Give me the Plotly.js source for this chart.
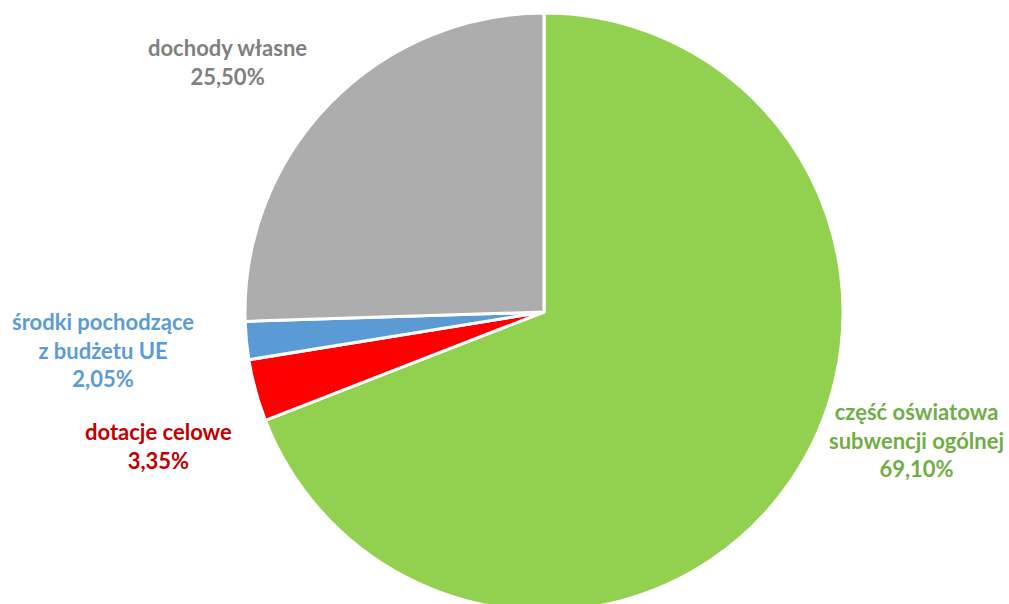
<!DOCTYPE html>
<html>
<head>
<meta charset="utf-8">
<script src="https://cdn.plot.ly/plotly-3.0.1.min.js"></script>
<style>
html,body{margin:0;padding:0;overflow:hidden;background:#fff;}
#chart{width:1009px;height:624px;}
</style>
</head>
<body>
<div id="chart"></div>
<script>
// Data
const categories = ["część oświatowa<br>subwencji ogólnej", "dotacje celowe", "środki pochodzące<br>z budżetu UE", "dochody własne"];
const values = [69.10, 3.35, 2.05, 25.50];

// Styles
const sliceColors = ["#92D050", "#FF0000", "#5B9BD5", "#ADADAD"];
const textColors = ["#70AD47", "#C00000", "#5B9BD5", "#7F7F7F"];
// label centre positions in pixels (x, y of first line centre)
const labelPos = [[916, 412], [158, 432], [103, 322], [227, 48]];

const W = 1009, H = 624;
const fmt = v => v.toFixed(2).replace('.', ',') + '%';

const annotations = categories.map((c, i) => {
  const lines = c.split('<br>').length + 1;
  const lineH = 28;
  const cy = labelPos[i][1] + (lines - 1) * lineH / 2;
  return {
    xref: 'paper', yref: 'paper',
    x: labelPos[i][0] / W, y: 1 - cy / H,
    xanchor: 'center', yanchor: 'middle',
    text: c + '<br>' + fmt(values[i]),
    showarrow: false,
    align: 'center',
    font: {family: 'Lato, "Open Sans", sans-serif', size: 22, weight: 'bold', color: textColors[i]}
  };
});

const trace = {
  type: 'pie',
  labels: categories,
  values: values,
  sort: false,
  direction: 'clockwise',
  rotation: 0,
  textinfo: 'none',
  hoverinfo: 'label+percent',
  marker: {colors: sliceColors, line: {color: '#FFFFFF', width: 3}},
  domain: {x: [0.1, 0.9783], y: [0.5 - 299 / H, 0.5 + 299 / H]}
};

Plotly.newPlot('chart', [trace], {
  width: W, height: H,
  margin: {l: 0, r: 0, t: 0, b: 0},
  showlegend: false,
  paper_bgcolor: '#fff',
  annotations: annotations
}, {displayModeBar: false, staticPlot: true});
</script>
</body>
</html>
